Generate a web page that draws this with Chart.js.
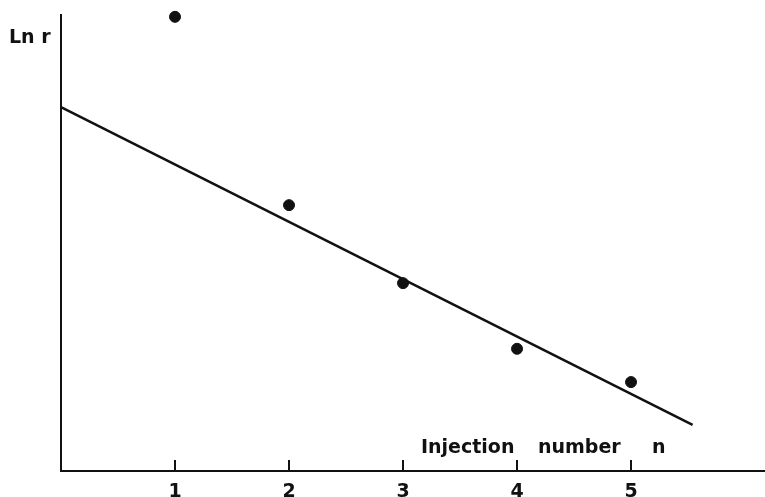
<!DOCTYPE html>
<html>
<head>
<meta charset="utf-8">
<script src="https://cdn.jsdelivr.net/npm/chart.js@4/dist/chart.umd.min.js"></script>
<style>
  html, body { margin: 0; padding: 0; background: #fff; }
  #wrap { width: 765px; height: 497px; }
</style>
</head>
<body>
<div id="wrap"><canvas id="plot"></canvas></div>
<script>
// measured points (injection number vs Ln r, arbitrary ordinate units)
const injections = [1, 2, 3, 4, 5];
const lnR = [9.96, 5.83, 4.12, 2.68, 1.95];
// fitted straight line, two ends
const fitX = [0, 5.54];
const fitY = [7.98, 1.01];
const xTicks = [1, 2, 3, 4, 5];

const inkColor = "#111";

// small upward tick marks on the abscissa and the free text labels
const decorations = {
    id: "decorations",
    afterDraw(chart){
        const ctx = chart.ctx;
        const xs = chart.scales.x;
        const bottom = chart.chartArea.bottom;
        ctx.save();
        ctx.fillStyle = inkColor;
        xTicks.forEach(t=>{
            const px = Math.round(xs.getPixelForValue(t));
            ctx.fillRect(px - 1, bottom - 11, 2, 11);
        });
        ctx.font = "bold 19px 'DejaVu Sans'";
        ctx.textBaseline = "alphabetic";
        ctx.textAlign = "left";
        ctx.fillText("Ln r", 9, 43);
        ctx.fillText("Injection", 421, 453);
        ctx.fillText("number", 538, 453);
        ctx.fillText("n", 652, 453);
        ctx.restore();
    }
};

new Chart(document.getElementById("plot"), {
    type: "scatter",
    data: {
        datasets: [
            {
                data: injections.map((n,i)=>({x:n, y:lnR[i]})),
                backgroundColor: inkColor,
                borderColor: inkColor,
                pointRadius: 5.5,
                pointHoverRadius: 5.5,
                clip: false
            },
            {
                type: "line",
                data: fitX.map((v,i)=>({x:v, y:fitY[i]})),
                borderColor: inkColor,
                borderWidth: 2.5,
                pointRadius: 0,
                fill: false,
                clip: false
            }
        ]
    },
    options: {
        responsive: true,
        maintainAspectRatio: false,
        animation: false,
        events: [],
        layout: { autoPadding: false, padding: { top: 15, right: 0, left: 0, bottom: 0 } },
        plugins: { legend: { display: false }, tooltip: { enabled: false } },
        scales: {
            x: {
                type: "linear",
                min: 0,
                max: 6.175,
                afterFit(scale){
                    scale.height = 26;
                    scale.paddingLeft = 0;
                    scale.paddingRight = 0;
                },
                border: { display: true, color: inkColor, width: 2 },
                grid: { display: false, drawTicks: false },
                ticks: {
                    stepSize: 1,
                    padding: 10,
                    color: inkColor,
                    font: { family: "'DejaVu Sans'", size: 19, weight: "bold" },
                    maxRotation: 0,
                    autoSkip: false,
                    callback: v => xTicks.includes(v) ? String(v) : ""
                }
            },
            y: {
                type: "linear",
                min: 0,
                max: 10,
                afterFit(scale){ scale.width = 61; },
                border: { display: true, color: inkColor, width: 2 },
                grid: { display: false, drawTicks: false },
                ticks: { display: false }
            }
        }
    },
    plugins: [decorations]
});
</script>
</body>
</html>
